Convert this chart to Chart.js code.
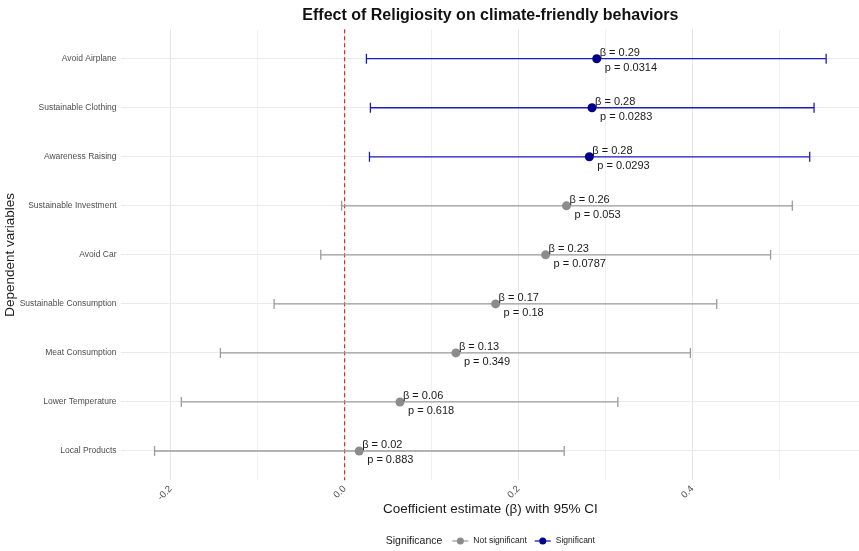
<!DOCTYPE html>
<html>
<head>
<meta charset="utf-8">
<script src="https://cdn.jsdelivr.net/npm/chart.js@4"></script>
<style>
  html, body { margin: 0; padding: 0; overflow: hidden; background: #fff; }
  #wrap { width: 866px; height: 551px; }
</style>
</head>
<body>
<div id="wrap"><canvas id="forestChart"></canvas></div>
<script>
const categories = ['Avoid Airplane', 'Sustainable Clothing', 'Awareness Raising', 'Sustainable Investment',
  'Avoid Car', 'Sustainable Consumption', 'Meat Consumption', 'Lower Temperature', 'Local Products'];
const betas = [0.290, 0.2846, 0.2815, 0.2552, 0.2312, 0.1737, 0.128, 0.0637, 0.0168];
const ciLow = [0.0251, 0.0297, 0.0286, -0.0034, -0.0274, -0.0811, -0.1429, -0.1878, -0.2186];
const ciHigh = [0.5539, 0.540, 0.535, 0.515, 0.490, 0.428, 0.3977, 0.3143, 0.2526];
const pValues = ['0.0314', '0.0283', '0.0293', '0.053', '0.0787', '0.18', '0.349', '0.618', '0.883'];
const significant = [true, true, true, false, false, false, false, false, false];
const xGridValues = [-0.2, -0.1, 0, 0.1, 0.2, 0.3, 0.4, 0.5];
const xTickLabels = ['-0.2', '', '0.0', '', '0.2', '', '0.4', ''];

const FONT = '"Liberation Sans", Arial, Helvetica, sans-serif';
const pointSig = '#00008b', lineSig = '#1c1cc4';
const pointNS = '#8c8c8c', lineNS = '#9c9c9c';

Chart.defaults.font.family = FONT;

// error bar segments, one per outcome
const ciSets = categories.map((c, i) => ({
  type: 'line',
  data: [{x: ciLow[i], y: i}, {x: ciHigh[i], y: i}],
  borderColor: significant[i] ? lineSig : lineNS,
  borderWidth: 1.3,
  pointStyle: 'line',
  pointRotation: 90,
  pointRadius: 5,
  pointBorderColor: significant[i] ? lineSig : lineNS,
  pointBorderWidth: 1.3,
  order: 1
}));

const textPlugin = {
  id: 'textPlugin',
  afterDatasetsDraw(chart) {
    const ctx = chart.ctx;
    const meta = chart.getDatasetMeta(0);
    ctx.save();
    ctx.font = '11px ' + FONT;
    ctx.fillStyle = '#1a1a1a';
    ctx.textBaseline = 'middle';
    ctx.textAlign = 'left';
    meta.data.forEach((pt, i) => {
      ctx.fillText('β = ' + betas[i].toFixed(2), pt.x + 3, pt.y - 6);
      ctx.fillText('p = ' + pValues[i], pt.x + 8, pt.y + 9);
    });
    ctx.restore();
  },
  afterDraw(chart) {
    const ctx = chart.ctx;
    const area = chart.chartArea;
    const cx = (area.left + area.right) / 2;
    ctx.save();
    // title
    ctx.font = 'bold 16px ' + FONT;
    ctx.fillStyle = '#111';
    ctx.textAlign = 'center';
    ctx.textBaseline = 'middle';
    ctx.fillText('Effect of Religiosity on climate-friendly behaviors', cx, 16);

    // legend
    const cy = 541;
    ctx.textAlign = 'left';
    ctx.font = '10.5px ' + FONT;
    const wTitle = ctx.measureText('Significance').width;
    ctx.font = '8.5px ' + FONT;
    const items = [
      {text: 'Not significant', line: lineNS, point: pointNS},
      {text: 'Significant', line: lineSig, point: pointSig}
    ];
    const keyW = 16;
    items.forEach(it => { it.w = ctx.measureText(it.text).width; });
    const total = wTitle + 10 + items.reduce((s, it) => s + keyW + 5 + it.w, 0) + 8;
    let x = cx - total / 2;
    ctx.font = '10.5px ' + FONT;
    ctx.fillStyle = '#1a1a1a';
    ctx.fillText('Significance', x, cy);
    x += wTitle + 10;
    ctx.font = '8.5px ' + FONT;
    items.forEach(it => {
      ctx.strokeStyle = it.line;
      ctx.lineWidth = 1.3;
      ctx.beginPath();
      ctx.moveTo(x, cy);
      ctx.lineTo(x + keyW, cy);
      ctx.stroke();
      ctx.fillStyle = it.point;
      ctx.beginPath();
      ctx.arc(x + keyW / 2, cy, 3.5, 0, Math.PI * 2);
      ctx.fill();
      x += keyW + 5;
      ctx.fillStyle = '#1a1a1a';
      ctx.fillText(it.text, x, cy);
      x += it.w + 8;
    });
    ctx.restore();
  }
};

const ctxForest = document.getElementById('forestChart').getContext('2d');
const forestChart = new Chart(ctxForest, {
  type: 'scatter',
  data: {
    datasets: [
      {
        label: 'Estimate',
        data: betas.map((b, i) => ({x: b, y: i})),
        pointBackgroundColor: significant.map(s => s ? pointSig : pointNS),
        pointBorderWidth: 0,
        pointRadius: 4.5,
        order: 0
      },
      ...ciSets,
      {
        type: 'line',
        data: [{x: 0, y: -0.6}, {x: 0, y: 8.6}],
        borderColor: '#e8281e',
        borderDash: [4, 3],
        borderWidth: 1.2,
        pointRadius: 0,
        order: 2
      }
    ]
  },
  options: {
    responsive: true,
    maintainAspectRatio: false,
    animation: false,
    layout: { padding: { top: 29.3, bottom: 30.6, left: 0, right: 2 } },
    plugins: {
      legend: { display: false },
      tooltip: { enabled: false }
    },
    scales: {
      x: {
        type: 'linear',
        min: -0.2572,
        max: 0.5925,
        afterBuildTicks: s => { s.ticks = xGridValues.map(v => ({value: v})); },
        afterFit: s => { s.height = 40; },
        grid: {
          color: c => (Math.abs(Math.round(c.tick.value * 10)) % 2 === 0 ? '#e6e6e6' : '#f1f1f1'),
          drawTicks: false
        },
        border: { display: false },
        ticks: {
          autoSkip: false,
          minRotation: 45,
          maxRotation: 45,
          padding: 3,
          color: '#4d4d4d',
          font: { size: 9.5 },
          callback: (v, i) => xTickLabels[i]
        },
        title: {
          display: true,
          text: 'Coefficient estimate (β) with 95% CI',
          color: '#1a1a1a',
          font: { size: 13.5 },
          padding: { top: 2, bottom: 3.3 }
        }
      },
      y: {
        type: 'linear',
        reverse: true,
        min: -0.6,
        max: 8.6,
        afterBuildTicks: s => { s.ticks = categories.map((c, i) => ({value: i})); },
        afterFit: s => { s.width = 121; },
        grid: { color: '#ebebeb', drawTicks: false },
        border: { display: false },
        ticks: {
          autoSkip: false,
          padding: 4.5,
          color: '#4d4d4d',
          font: { size: 8.5 },
          callback: v => categories[v]
        },
        title: {
          display: true,
          text: 'Dependent variables',
          color: '#1a1a1a',
          font: { size: 13.5 },
          padding: { top: 2.4, bottom: 0 }
        }
      }
    }
  },
  plugins: [textPlugin]
});
</script>
</body>
</html>
